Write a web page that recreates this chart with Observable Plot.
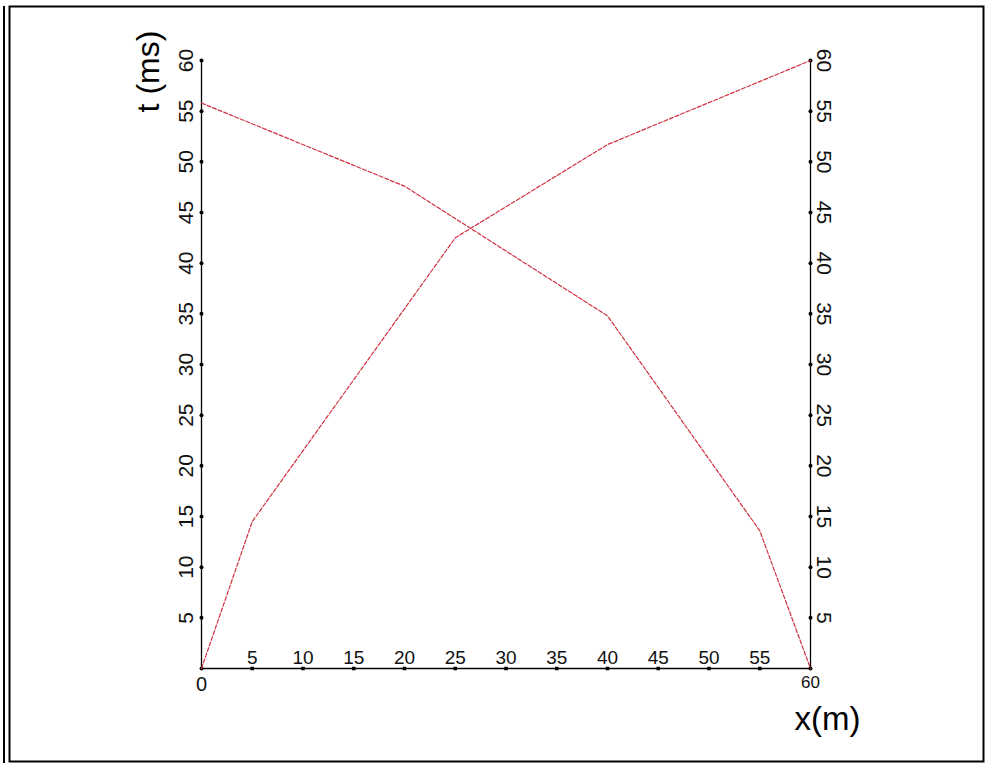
<!DOCTYPE html>
<html>
<head>
<meta charset="utf-8">
<script src="https://cdn.jsdelivr.net/npm/d3@7"></script>
<script src="https://cdn.jsdelivr.net/npm/@observablehq/plot@0.6"></script>
<style>
  html, body { margin: 0; padding: 0; background: #fff; }
  #chart { position: relative; width: 985px; height: 763px; }
</style>
</head>
<body>
<div id="chart"></div>
<script>
// Data
const xRise = [0, 5, 25, 40, 60];
const tRise = [0, 14.5, 42.5, 51.7, 60];
const xFall = [0, 20, 40, 55, 60];
const tFall = [55.8, 47.6, 34.8, 13.6, 0];
const xTicks = [5, 10, 15, 20, 25, 30, 35, 40, 45, 50, 55];
const tTicks = [5, 10, 15, 20, 25, 30, 35, 40, 45, 50, 55, 60];
const xEnds = [0, 60];
const xTitle = "x(m)";
const tTitle = "t (ms)";

const rise = xRise.map((x, i) => ({x, t: tRise[i]}));
const fall = xFall.map((x, i) => ({x, t: tFall[i]}));
const lineColor = "#d03040";
const font = "'Liberation Sans', Arial, sans-serif";

const chart = Plot.plot({
  width: 985,
  height: 763,
  marginLeft: 201,
  marginRight: 175,
  marginTop: 60,
  marginBottom: 95,
  style: {fontFamily: font, background: "#fff", color: "#000"},
  x: {domain: [0, 60], axis: null},
  y: {domain: [0, 60], axis: null},
  marks: [
    // axis lines
    Plot.ruleX(xEnds, {y1: 0, y2: 60, stroke: "#000", strokeWidth: 1.3}),
    Plot.ruleY([0], {x1: 0, x2: 60, stroke: "#000", strokeWidth: 1.3}),
    // tick dots
    Plot.dot(tTicks, {x: 0, y: d => d, r: 2, fill: "#000", stroke: null}),
    Plot.dot(tTicks, {x: 60, y: d => d, r: 2, fill: "#000", stroke: null}),
    Plot.dot(xTicks, {x: d => d, y: 0, r: 2, symbol: "square", fill: "#000", stroke: null}),
    Plot.dot(xEnds, {x: d => d, y: 0, r: 2, fill: "#000", stroke: null}),
    // tick labels
    Plot.text(tTicks, {x: 0, y: d => d, text: d => String(d), rotate: -90, dx: -15, fontSize: 21, fill: "#111", textAnchor: "middle", lineAnchor: "middle"}),
    Plot.text(tTicks, {x: 60, y: d => d, text: d => String(d), rotate: 90, dx: 13, fontSize: 21, fill: "#111", textAnchor: "middle", lineAnchor: "middle"}),
    Plot.text(xTicks, {x: d => d, y: 0, text: d => String(d), dy: -11, fontSize: 19, fill: "#111", textAnchor: "middle", lineAnchor: "middle"}),
    Plot.text([xEnds[0]], {x: d => d, y: 0, text: d => String(d), dy: 16, fontSize: 20, fill: "#111", textAnchor: "middle", lineAnchor: "middle"}),
    Plot.text([xEnds[1]], {x: d => d, y: 0, text: d => String(d), dy: 14, fontSize: 17, fill: "#111", textAnchor: "middle", lineAnchor: "middle"}),
    // curves
    Plot.line(rise, {x: "x", y: "t", stroke: lineColor, strokeWidth: 1.2, strokeDasharray: "4,2"}),
    Plot.line(fall, {x: "x", y: "t", stroke: lineColor, strokeWidth: 1.2, strokeDasharray: "4,2"}),
    // axis titles
    Plot.text([tTitle], {x: 0, y: 60, text: d => d, rotate: -90, dx: -53, dy: 11, fontSize: 32, fill: "#000", textAnchor: "middle", lineAnchor: "middle"}),
    Plot.text([xTitle], {x: 60, y: 0, text: d => d, dx: 17, dy: 51, fontSize: 33, fill: "#000", textAnchor: "middle", lineAnchor: "middle"})
  ]
});

// outer frame decoration
const svg = d3.select(chart);
svg.append("rect").attr("x", 9.5).attr("y", 6.5).attr("width", 974).attr("height", 755)
  .attr("fill", "none").attr("stroke", "#000").attr("stroke-width", 2);
svg.append("line").attr("x1", 4).attr("x2", 4).attr("y1", 6).attr("y2", 763)
  .attr("stroke", "#000").attr("stroke-width", 2);

document.getElementById("chart").appendChild(chart);
</script>
</body>
</html>
